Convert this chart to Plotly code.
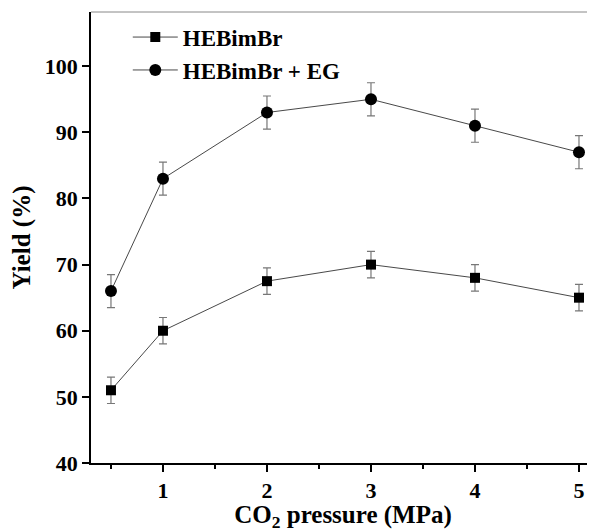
import plotly.graph_objects as go

pressure = [0.5, 1, 2, 3, 4, 5]
yield_hebimbr = [51, 60, 67.5, 70, 68, 65]
err_hebimbr = [2, 2, 2, 2, 2, 2]
yield_eg = [66, 83, 93, 95, 91, 87]
err_eg = [2.5, 2.5, 2.5, 2.5, 2.5, 2.5]
x_ticks = [1, 2, 3, 4, 5]
x_minor = [0.5, 1.5, 2.5, 3.5, 4.5]
y_ticks = [40, 50, 60, 70, 80, 90, 100]

FONT = "Liberation Serif"

fig = go.Figure()
fig.add_trace(go.Scatter(
    x=pressure, y=yield_hebimbr, name="<b>HEBimBr</b>", mode="lines+markers",
    line=dict(color="#333333", width=0.9),
    marker=dict(symbol="square", size=10, color="black"),
    error_y=dict(type="data", array=err_hebimbr, color="#777777", thickness=1.2, width=4),
))
fig.add_trace(go.Scatter(
    x=pressure, y=yield_eg, name="<b>HEBimBr + EG</b>", mode="lines+markers",
    line=dict(color="#333333", width=0.9),
    marker=dict(symbol="circle", size=12, color="black"),
    error_y=dict(type="data", array=err_eg, color="#777777", thickness=1.2, width=4),
))

fig.update_layout(
    width=587, height=524,
    margin=dict(l=83, r=0, t=4, b=69, autoexpand=False),
    paper_bgcolor="white", plot_bgcolor="white",
    font=dict(family=FONT, color="black", size=22),
    showlegend=True,
    legend=dict(x=0.073, y=0.992, xanchor="left", yanchor="top",
                font=dict(family=FONT, size=23, color="black"),
                bgcolor="rgba(0,0,0,0)", tracegroupgap=0, itemwidth=45),
    xaxis=dict(
        title=dict(text="<b>CO<sub>2</sub> pressure (MPa)</b>", font=dict(family=FONT, size=25), standoff=4),
        range=[0.308, 5.154], tickvals=x_ticks, ticktext=["<b>%d</b>" % v for v in x_ticks],
        showgrid=False, zeroline=False, showline=True, linecolor="black", linewidth=1.5,
        ticks="outside", ticklen=7, tickwidth=1.5, tickcolor="black",
        minor=dict(tickvals=x_minor, ticks="outside", ticklen=4, tickwidth=1.5, tickcolor="black"),
        tickfont=dict(family=FONT, size=22), automargin=False,
    ),
    yaxis=dict(
        title=dict(text="<b>Yield (%)</b>", font=dict(family=FONT, size=25), standoff=10),
        range=[40, 108.2], tickvals=y_ticks, ticktext=["<b>%d</b>" % v for v in y_ticks],
        showgrid=False, zeroline=False, showline=True, linecolor="black", linewidth=1.5,
        ticks="outside", ticklen=7, tickwidth=1.5, tickcolor="black",
        tickfont=dict(family=FONT, size=22), automargin=False,
    ),
    shapes=[dict(type="line", xref="paper", yref="paper", x0=0, x1=1, y0=1, y1=1,
                 line=dict(color="#888888", width=1))],
)

fig.write_html("out.html")
